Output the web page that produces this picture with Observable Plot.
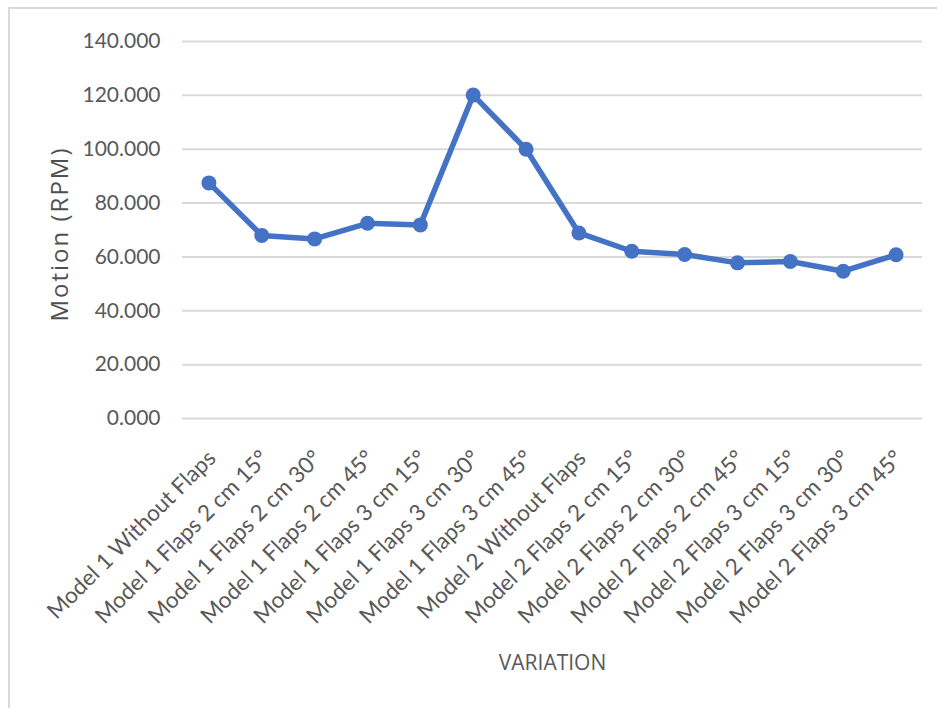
<!DOCTYPE html>
<html>
<head>
<meta charset="utf-8">
<script src="https://cdn.jsdelivr.net/npm/d3@7"></script>
<script src="https://cdn.jsdelivr.net/npm/@observablehq/plot@0.6"></script>
<style>
  html, body { margin: 0; padding: 0; background: #fff; }
  #frame { position: absolute; left: 8px; top: 7px; width: 940px; height: 710px;
           border-left: 2px solid #d9d9d9; border-top: 2px solid #d9d9d9; box-sizing: border-box; }
  #chart { position: absolute; left: 0; top: 0; }
  .ytitle text { letter-spacing: 2px; }
</style>
</head>
<body>
<div id="frame"></div>
<div id="chart"></div>
<script>
const categories = [
  "Model 1 Without Flaps",
  "Model 1 Flaps 2 cm 15°",
  "Model 1 Flaps 2 cm 30°",
  "Model 1 Flaps 2 cm 45°",
  "Model 1 Flaps 3 cm 15°",
  "Model 1 Flaps 3 cm 30°",
  "Model 1 Flaps 3 cm 45°",
  "Model 2 Without Flaps",
  "Model 2 Flaps 2 cm 15°",
  "Model 2 Flaps 2 cm 30°",
  "Model 2 Flaps 2 cm 45°",
  "Model 2 Flaps 3 cm 15°",
  "Model 2 Flaps 3 cm 30°",
  "Model 2 Flaps 3 cm 45°"
];
const rpm = [87.5, 68.0, 66.7, 72.5, 71.9, 120.1, 100.0, 68.9, 62.1, 60.9, 57.8, 58.3, 54.7, 60.8];
const yTicks = [0, 20, 40, 60, 80, 100, 120, 140];
const yTitle = "Motion (RPM)";
const xTitle = "VARIATION";

const data = categories.map((c, i) => ({cat: c, v: rpm[i]}));

const chart = Plot.plot({
  width: 937,
  height: 708,
  marginLeft: 182,
  marginRight: 15,
  marginTop: 41,
  marginBottom: 290,
  style: {fontFamily: "Lato, sans-serif", fontSize: "21px", color: "#595959", background: "transparent"},
  x: {type: "point", domain: categories, padding: 0.5, round: false},
  y: {domain: [0, 140]},
  marks: [
    Plot.gridY(yTicks, {stroke: "#d9d9d9", strokeOpacity: 1, strokeWidth: 2}),
    Plot.axisY(yTicks, {tickSize: 0, tickPadding: 22, tickFormat: d3.format(".3f"),
      label: null, fill: "#595959", fontSize: 21}),
    Plot.axisX({tickSize: 0, tickRotate: -45, tickPadding: 36, dx: 3,
      label: null, fill: "#595959", fontSize: 22.5}),
    Plot.text([yTitle], {frameAnchor: "left", textAnchor: "middle", dx: -122, dy: 4, rotate: -90,
      fontFamily: "Open Sans, sans-serif", fontSize: 24, fill: "#505050", className: "ytitle"}),
    Plot.text([xTitle], {frameAnchor: "bottom", dy: 251,
      fontFamily: "Open Sans, sans-serif", fontSize: 21, fill: "#595959"}),
    Plot.line(data, {x: "cat", y: "v", stroke: "#4472C4", strokeWidth: 5.5}),
    Plot.dot(data, {x: "cat", y: "v", fill: "#4472C4", r: 7.5})
  ]
});
document.getElementById("chart").appendChild(chart);
</script>
</body>
</html>
